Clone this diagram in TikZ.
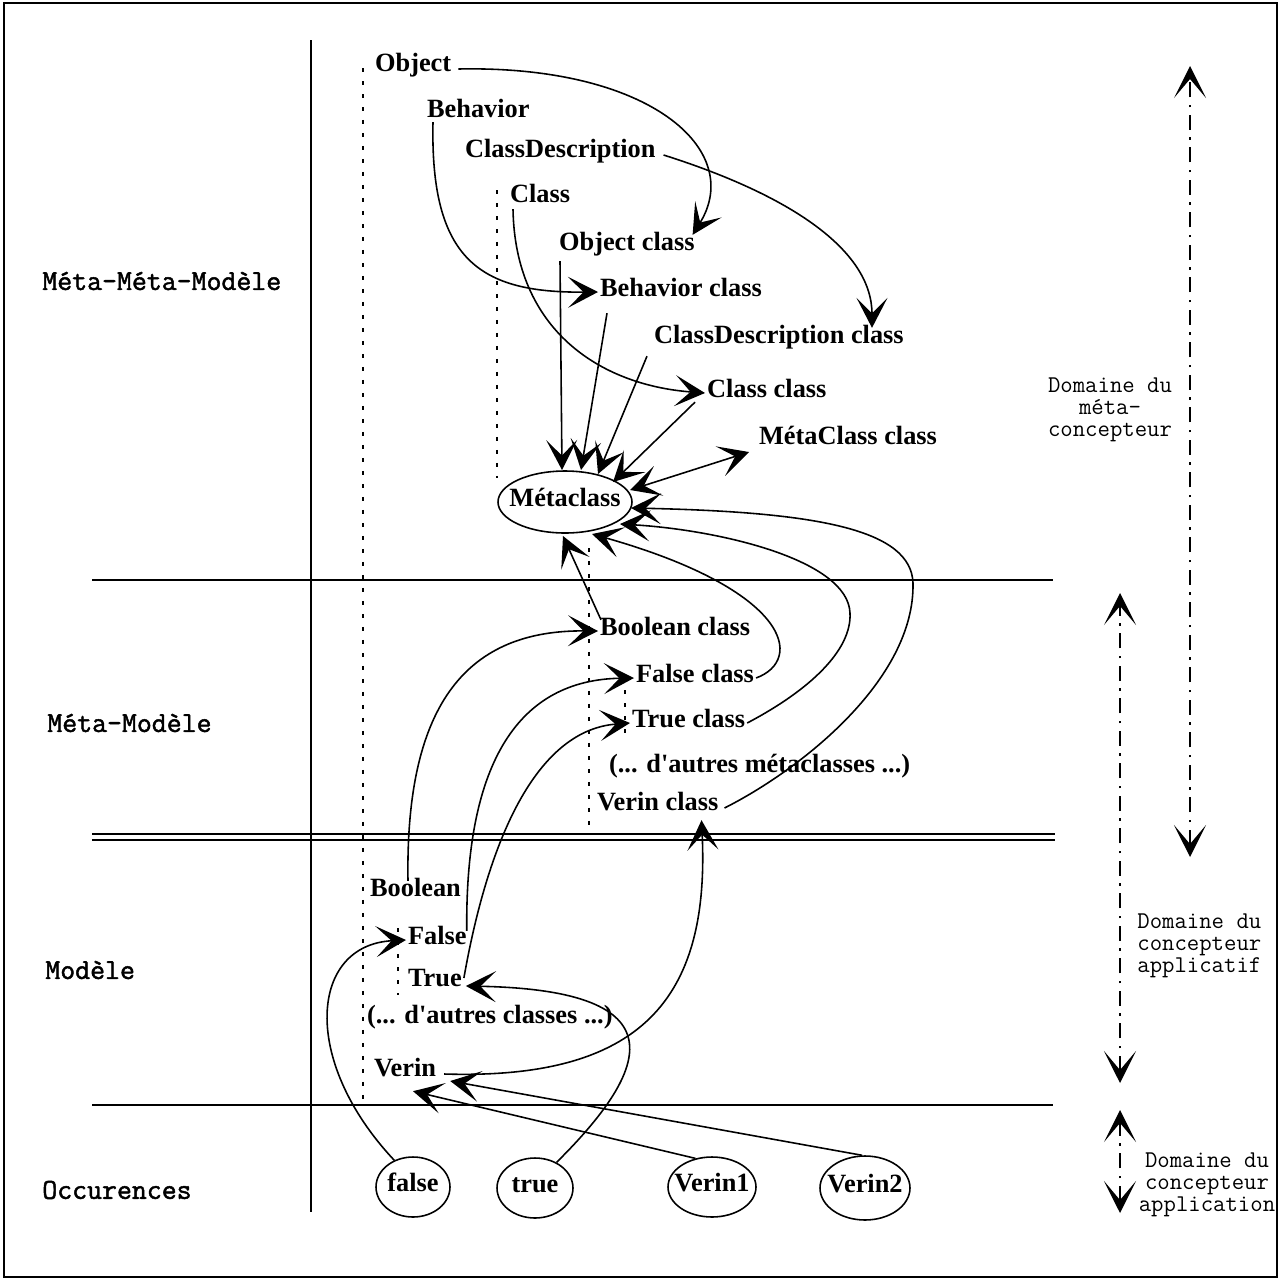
\documentclass[tikz,border=0pt]{standalone}
\usepackage{fontspec}
\setmainfont{Liberation Serif}
\newfontfamily\levelfont[FakeBold=1.6]{Latin Modern Mono}
\newfontfamily\domfont{Latin Modern Mono}
\usetikzlibrary{arrows.meta,shapes.geometric,calc}
\tikzset{
  txt/.style={font=\fontsize{15}{18}\selectfont\bfseries, inner sep=1pt, text height=1.45ex, text depth=.3ex},
  lbl/.style={txt, anchor=west},
  lvl/.style={font=\levelfont\fontsize{16.5}{20}\selectfont, inner sep=0pt, anchor=west},
  dom/.style={font=\domfont\fontsize{13.7}{12.5}\selectfont, inner sep=0pt},
  occ/.style={draw, ellipse, line width=0.9pt, inner sep=0pt},
  arr/.style={line width=0.9pt, -{Stealth[length=6mm,width=6.2mm,inset=3.1mm]}},
  biarr/.style={line width=0.9pt, {Stealth[length=6mm,width=6.2mm,inset=3.1mm]}-{Stealth[length=6mm,width=6.2mm,inset=3.1mm]}},
  dotl/.style={line width=1.3pt, dash pattern=on 0.8mm off 1.8mm},
  dd/.style={line width=0.8pt, dash pattern=on 3mm off 1.5mm on 0.5mm off 1.5mm, {Stealth[length=6.4mm,width=6.4mm,inset=3.8mm]}-{Stealth[length=6.4mm,width=6.4mm,inset=3.8mm]}},
  sepl/.style={line width=1pt},
}
\begin{document}
\begin{tikzpicture}[x=0.02cm,y=-0.02cm]
\useasboundingbox (0,0) rectangle (1279,1279);
\draw[line width=1.2pt] (4,3) rectangle (1277,1277);
% structure
\draw[line width=1.6pt] (311,40) -- (311,1212);
\draw[sepl] (92,580) -- (1053,580);
\draw[sepl] (92,834) -- (1055,834);
\draw[sepl] (92,840) -- (1055,840);
\draw[sepl] (92,1105) -- (1053,1105);
% dotted guides
\draw[dotl] (363,68) -- (363,1100);
\draw[dotl] (497,190) -- (497,478);
\draw[dotl] (589,548) -- (589,825);
\draw[dotl] (625,690) -- (625,735);
\draw[dotl] (398,928) -- (398,995);
% level labels
\node[lvl] (l1) at (42,281) {Méta—Méta—Modèle};
\node[lvl] (l2) at (47,723) {Méta—Modèle};
\node[lvl] (l3) at (45,970) {Modèle};
\node[lvl] (l4) at (42,1190) {Occurences};
% meta-meta-model
\node[lbl] (obj) at (373,67) {Object};
\node[lbl] (beh) at (425,113) {Behavior};
\node[lbl] (cd) at (463,153) {ClassDescription};
\node[lbl] (cls) at (508,198) {Class};
\node[lbl] (objc) at (557,246) {Object class};
\node[lbl] (behc) at (598,292) {Behavior class};
\node[lbl] (cdc) at (652,339) {ClassDescription class};
\node[lbl] (clsc) at (705,393) {Class class};
\node[lbl] (mcc) at (757,440) {MétaClass class};
\node[occ, minimum width=2.68cm, minimum height=1.24cm, label={[txt]center:Métaclass}] (meta) at (565,502) {};
% meta-model
\node[lbl] (boolc) at (598,631) {Boolean class};
\node[lbl] (falsec) at (634,678) {False class};
\node[lbl] (truec) at (630,723) {True class};
\node[lbl] (othm) at (607,768) {(... d\textquotesingle autres métaclasses ...)};
\node[lbl] (verc) at (595,806) {Verin class};
% model
\node[lbl] (bool) at (368,892) {Boolean};
\node[lbl] (fals) at (406,940) {False};
\node[lbl] (tru) at (406,982) {True};
\node[lbl] (othc) at (365,1019) {(... d\textquotesingle autres classes ...)};
\node[lbl] (ver) at (372,1072) {Verin};
% occurrences
\node[occ, minimum width=1.48cm, minimum height=1.2cm, label={[txt]center:false}] (ofalse) at (413,1187) {};
\node[occ, minimum width=1.52cm, minimum height=1.2cm, label={[txt]center:true}] (otrue) at (535,1188) {};
\node[occ, minimum width=1.76cm, minimum height=1.2cm, label={[txt]center:Verin1}] (over1) at (712,1187) {};
\node[occ, minimum width=1.8cm, minimum height=1.28cm, label={[txt]center:Verin2}] (over2) at (865,1188) {};
% connectors, meta-meta-model
\draw[arr] ($(obj.east)+(5,2)$) .. controls (650,65) and (745,150) .. ($(objc.north east)+(-4,-2)$);
\draw[arr] ($(beh.south west)+(8,0)$) .. controls (430,260) and (480,293) .. (behc.west);
\draw[arr] ($(cd.east)+(6,2)$) .. controls (790,195) and (872,250) .. ($(cdc.north west)+(220,-2)$);
\draw[arr] ($(cls.south west)+(5,2)$) .. controls (515,330) and (600,385) .. (clsc.west);
\draw[arr] ($(objc.south west)+(3,6)$) -- ($(meta.center)+(-3,-32)$);
\draw[arr] ($(behc.south west)+(9,12)$) -- ($(meta.center)+(16,-32)$);
\draw[arr] ($(cdc.south west)+(-5,8)$) -- ($(meta.center)+(33,-28)$);
\draw[arr] ($(clsc.south west)+(-10,0)$) -- ($(meta.center)+(48,-20)$);
\draw[biarr] ($(meta.center)+(65,-12)$) -- ($(mcc.west)+(-8,12)$);
% connectors, meta-model -> Metaclass
\draw[arr] ($(boolc.north west)+(3,-2)$) -- ($(meta.center)+(-2,34)$);
\draw[arr] (falsec.east) .. controls (805,660) and (790,590) .. ($(meta.center)+(27,32)$);
\draw[arr] (truec.east) .. controls (810,690) and (852,650) .. (850,613) .. controls (848,560) and (720,530) .. ($(meta.center)+(55,22)$);
\draw[arr] ($(verc.east)+(4,2)$) .. controls (800,770) and (915,680) .. (913,583) .. controls (911,530) and (820,512) .. ($(meta.center)+(66,6)$);
% connectors, model -> meta-model
\draw[arr] ($(bool.north west)+(40,-2)$) .. controls (405,700) and (470,630) .. (boolc.west);
\draw[arr] ($(fals.north east)+(-2,0)$) .. controls (465,760) and (520,680) .. (falsec.west);
\draw[arr] ($(tru.east)+(0,-4)$) .. controls (490,830) and (540,730) .. (truec.west);
\draw[arr] ($(ver.east)+(6,2)$) .. controls (640,1080) and (710,1000) .. ($(verc.south east)+(-19,5)$);
% connectors, occurrences -> model
\draw[arr] (ofalse.125) .. controls (300,1060) and (310,945) .. (fals.west);
\draw[arr] (otrue.50) .. controls (660,1060) and (670,990) .. ($(tru.east)+(2,4)$);
\draw[arr] (over1.120) -- ($(ver.south west)+(41,10)$);
\draw[arr] (over2.95) -- ($(ver.east)+(12,9)$);
% domains
\coordinate (a1t) at (1190,66);
\coordinate (a1b) at (1190,857);
\coordinate (a2t) at (1120,593);
\coordinate (a2b) at (1120,1083);
\coordinate (a3t) at (1120,1110);
\coordinate (a3b) at (1120,1213);
\draw[dd] (a1b) -- (a1t);
\draw[dd] (a2b) -- (a2t);
\draw[dd] (a3b) -- (a3t);
\node[dom, align=center] (dom1) at (1110,410) {Domaine du\\méta-\\concepteur};
\node[dom, align=left, anchor=west] (dom2) at (1137,946) {Domaine du\\concepteur\\applicatif};
\node[dom, align=center] (dom3) at (1207,1185) {Domaine du\\concepteur\\application};
\end{tikzpicture}
\end{document}
